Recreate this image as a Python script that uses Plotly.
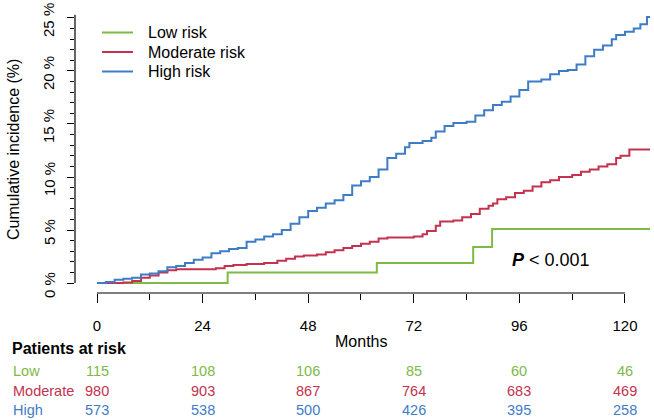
import plotly.graph_objects as go

# cumulative incidence (%), step points
low_t = [0, 29.7, 63.6, 85.5, 89.8, 125.7]
low_y = [0, 1.0, 1.9, 3.4, 5.1, 5.1]

mod_t = [0, 6, 8, 10, 12, 14, 16, 18, 27, 29, 31, 34, 38, 41, 43, 45, 47, 50, 52, 54,
         56, 58, 60, 62, 64, 66, 72, 74, 75, 77, 78, 81, 83, 85, 87, 89, 90, 91, 93, 95,
         97, 99, 101, 103, 105, 108, 110, 112, 114, 116, 118, 119, 121, 125.7]
mod_y = [0, 0.05, 0.2, 0.5, 0.7, 1.0, 1.2, 1.3, 1.4, 1.6, 1.7, 1.8, 1.9, 2.1, 2.3, 2.5, 2.6, 2.7, 2.9, 3.1,
         3.3, 3.5, 3.7, 3.9, 4.2, 4.3, 4.4, 4.6, 4.9, 5.4, 5.8, 5.9, 6.2, 6.5, 7.0, 7.3, 7.5, 7.9, 8.1, 8.5,
         8.7, 9.1, 9.5, 9.7, 10.0, 10.2, 10.5, 10.7, 11.0, 11.2, 11.8, 12.0, 12.6, 12.6]

high_t = [0, 2, 4, 6, 8, 10, 12, 14, 16, 18, 20, 22, 24, 26, 28, 30, 32, 34, 36, 38,
          40, 42, 44, 46, 48, 50, 52, 54, 56, 58, 60, 62, 64, 66, 68, 70, 71, 74, 76, 77,
          79, 81, 84, 86, 88, 90, 92, 94, 96, 98, 101, 103, 105, 107, 109, 111, 113, 115, 117, 118,
          120, 122, 123.5, 125, 125.7]
high_y = [0, 0.1, 0.3, 0.4, 0.5, 0.8, 0.9, 1.1, 1.5, 1.6, 1.9, 2.2, 2.4, 2.8, 3.0, 3.2, 3.3, 3.9, 4.1, 4.4,
          4.6, 5.0, 5.6, 6.2, 6.8, 7.1, 7.5, 7.8, 8.3, 9.2, 9.6, 10.0, 10.7, 11.8, 12.2, 12.8, 13.2, 13.4, 13.7, 14.3,
          14.8, 15.1, 15.2, 15.8, 16.3, 16.8, 17.1, 17.6, 18.2, 19.0, 19.2, 19.7, 20.0, 20.1, 20.6, 21.4, 22.0, 22.4, 23.0, 23.4,
          23.7, 24.0, 24.4, 25.1, 25.1]

# patients at risk table
risk_times = [0, 24, 48, 72, 96, 120]
risk_low = [115, 108, 106, 85, 60, 46]
risk_mod = [980, 903, 867, 764, 683, 469]
risk_high = [573, 538, 500, 426, 395, 258]

y_ticks = [0, 5, 10, 15, 20, 25]
y_ticktext = ["0 %", "5 %", "10 %", "15 %", "20 %", "25 %"]
x_ticks = [0, 24, 48, 72, 96, 120]

GREEN = "#7dba46"
RED = "#c4324f"
BLUE = "#3f7cc6"
FONT = "Liberation Sans, Arial, sans-serif"

groups = [("Low risk", low_t, low_y, GREEN),
          ("Moderate risk", mod_t, mod_y, RED),
          ("High risk", high_t, high_y, BLUE)]

fig = go.Figure()
for name, t, y, c in groups:
    fig.add_trace(go.Scatter(x=t, y=y, mode="lines", name=name, showlegend=False,
                             line=dict(color=c, width=2, shape="hv")))


def py(p):
    # pixel row -> paper y (plot area spans 8..293 px)
    return (293 - p) / 285


def px_(p):
    return (p - 75) / 579


# R-style detached axis lines
fig.add_shape(type="line", xref="x", yref="paper", x0=0, x1=120, y0=0, y1=0,
              line=dict(color="black", width=1.2))
fig.add_shape(type="line", xref="paper", yref="y", x0=0, x1=0, y0=0, y1=25.3,
              line=dict(color="black", width=1.2))

ann = []
# legend drawn by hand, R style
for i, (name, t, y, c) in enumerate(groups):
    yy = py(32.5 + 19.5 * i)
    fig.add_shape(type="line", xref="paper", yref="paper", x0=px_(102), x1=px_(133), y0=yy, y1=yy,
                  line=dict(color=c, width=2))
    ann.append(dict(text=name, xref="paper", yref="paper", x=px_(146), y=yy,
                    xanchor="left", yanchor="middle", showarrow=False, font=dict(size=16)))

# rotated y tick labels
for v, s in zip(y_ticks, y_ticktext):
    ann.append(dict(text=s, xref="paper", yref="y", x=px_(49), y=v, yshift=-2,
                    xanchor="center", yanchor="middle", textangle=-90, showarrow=False,
                    font=dict(size=15)))

ann.append(dict(text="Cumulative incidence (%)", xref="paper", yref="paper", x=px_(13), y=py(150),
                xanchor="center", yanchor="middle", textangle=-90, showarrow=False, font=dict(size=16)))
ann.append(dict(text="Months", xref="x", yref="paper", x=60, y=py(341),
                xanchor="center", yanchor="middle", showarrow=False, font=dict(size=16)))
ann.append(dict(text="<b>Patients at risk</b>", xref="paper", yref="paper", x=px_(10), y=py(348),
                xanchor="left", yanchor="middle", showarrow=False, font=dict(size=16)))
ann.append(dict(text="<b><i>P</i></b> < 0.001", xref="x", yref="y", x=103.2, y=2.2,
                xanchor="center", yanchor="middle", showarrow=False, font=dict(size=18)))

rows = [("Low", risk_low, GREEN, 371), ("Moderate", risk_mod, RED, 391), ("High", risk_high, BLUE, 410)]
for label, vals, c, p in rows:
    ann.append(dict(text=label, xref="paper", yref="paper", x=px_(11), y=py(p),
                    xanchor="left", yanchor="middle", showarrow=False, font=dict(size=14.5, color=c)))
    for t, v in zip(risk_times, vals):
        ann.append(dict(text=str(v), xref="x", yref="paper", x=t, y=py(p),
                        xanchor="center", yanchor="middle", showarrow=False,
                        font=dict(size=14.5, color=c)))

fig.update_layout(
    width=654, height=420,
    margin=dict(l=75, r=0, t=8, b=127),
    paper_bgcolor="white", plot_bgcolor="white",
    font=dict(family=FONT, color="black"),
    annotations=ann,
    showlegend=False,
    xaxis=dict(range=[-5, 126.6], showgrid=False, zeroline=False, showline=False, automargin=False,
               tickvals=x_ticks, ticks="outside", ticklen=9, tickcolor="black",
               ticklabelstandoff=10, tickfont=dict(size=15), ticklabeloverflow="allow",
               minor=dict(tickvals=[12, 36, 60, 84, 108], ticks="outside", ticklen=6, tickcolor="black")),
    yaxis=dict(range=[-0.94, 25.94], showgrid=False, zeroline=False, showline=False, automargin=False,
               tickvals=y_ticks, showticklabels=False,
               ticks="outside", ticklen=7, tickcolor="black",
               minor=dict(dtick=1, tick0=0, ticks="outside", ticklen=4, tickcolor="black")),
)

# drop the default 8px page margin so the figure sits at the window corner
fig.write_html("out.html", config={"displayModeBar": False},
               post_script="document.body.style.margin='0';")
